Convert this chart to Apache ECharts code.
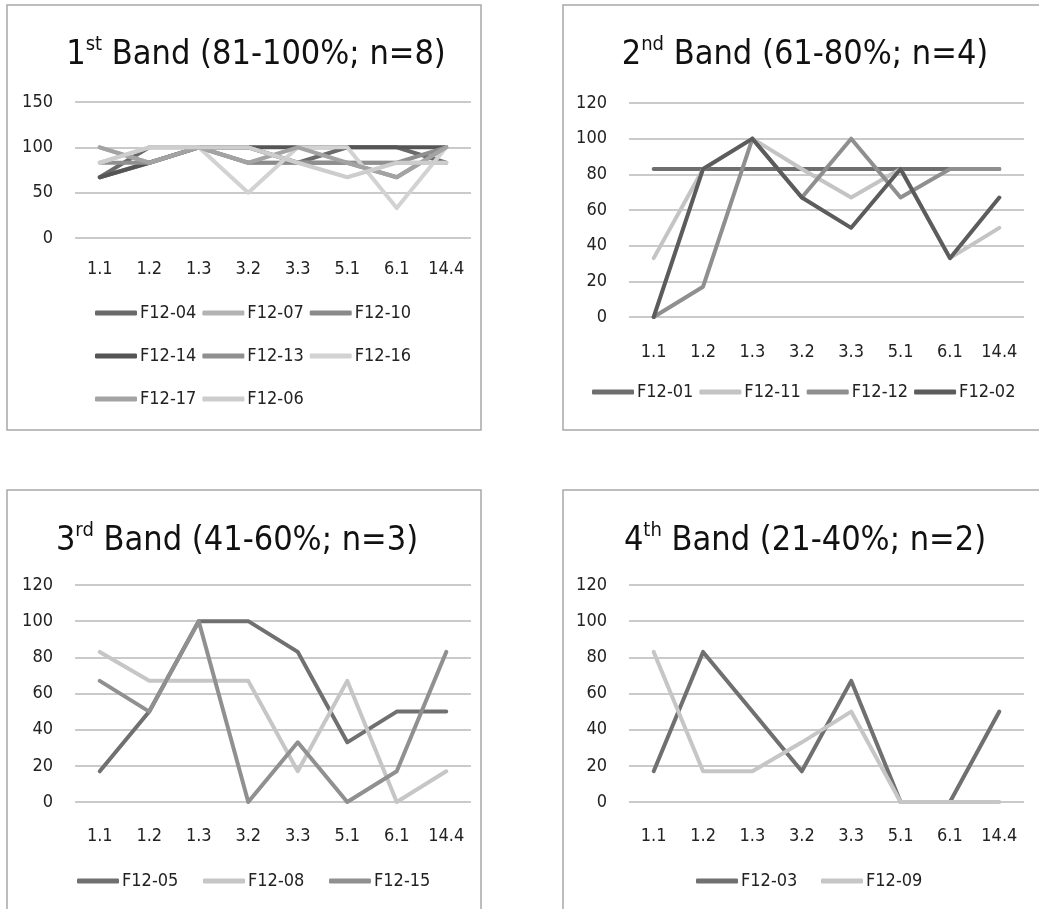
<!DOCTYPE html>
<html><head><meta charset="utf-8">
<script src="https://cdn.jsdelivr.net/npm/echarts@6/dist/echarts.min.js"></script>
<style>html,body{margin:0;padding:0;background:#fff;}#c{width:1039px;height:909px;}</style>
</head><body><div id="c"></div>
<script>
const categories = ['1.1','1.2','1.3','3.2','3.3','5.1','6.1','14.4'];

// Panel 1: 1st Band (81-100%; n=8)
const band1Names = ['F12-04','F12-07','F12-10','F12-14','F12-13','F12-16','F12-17','F12-06'];
const f1204 = [67, 100, 100, 100, 83, 100, 100, 83];
const f1207 = [100, 83, 100, 83, 83, 83, 83, 83];
const f1210 = [67, 83, 100, 83, 83, 83, 67, 100];
const f1214 = [67, 83, 100, 100, 100, 100, 100, 100];
const f1213 = [83, 83, 100, 100, 83, 83, 83, 100];
const f1216 = [83, 100, 100, 50, 100, 100, 33, 100];
const f1217 = [100, 83, 100, 83, 100, 83, 67, 100];
const f1206 = [83, 100, 100, 100, 83, 67, 83, 83];

// Panel 2: 2nd Band (61-80%; n=4)
const band2Names = ['F12-01','F12-11','F12-12','F12-02'];
const f1201 = [83, 83, 83, 83, 83, 83, 83, 83];
const f1211 = [33, 83, 100, 83, 67, 83, 33, 50];
const f1212 = [0, 17, 100, 67, 100, 67, 83, 83];
const f1202 = [0, 83, 100, 67, 50, 83, 33, 67];

// Panel 3: 3rd Band (41-60%; n=3)
const band3Names = ['F12-05','F12-08','F12-15'];
const f1205 = [17, 50, 100, 100, 83, 33, 50, 50];
const f1208 = [83, 67, 67, 67, 17, 67, 0, 17];
const f1215 = [67, 50, 100, 0, 33, 0, 17, 83];

// Panel 4: 4th Band (21-40%; n=2)
const band4Names = ['F12-03','F12-09'];
const f1203 = [17, 83, 50, 17, 67, 0, 0, 50];
const f1209 = [83, 17, 17, 33, 50, 0, 0, 0];

const FONT = '"DejaVu Sans Condensed","Liberation Sans Narrow",sans-serif';

const panels = [
  {grid:{left:75, top:102, width:396, height:136}, max:150, interval:50, labelMargin:22,
   names:band1Names, values:[f1204,f1207,f1210,f1214,f1213,f1216,f1217,f1206],
   colors:['#6a6a6a','#b3b3b3','#8a8a8a','#555555','#8f8f8f','#d2d2d2','#a3a3a3','#cdcdcd']},
  {grid:{left:629, top:103, width:395, height:214}, max:120, interval:20, labelMargin:26,
   names:band2Names, values:[f1201,f1211,f1212,f1202],
   colors:['#6e6e6e','#c4c4c4','#8f8f8f','#5c5c5c']},
  {grid:{left:75, top:585, width:396, height:217}, max:120, interval:20, labelMargin:25,
   names:band3Names, values:[f1205,f1208,f1215],
   colors:['#707070','#c6c6c6','#909090']},
  {grid:{left:629, top:585, width:395, height:217}, max:120, interval:20, labelMargin:25,
   names:band4Names, values:[f1203,f1209],
   colors:['#707070','#c6c6c6']}
];

const grids=[], xAxes=[], yAxes=[], series=[];
panels.forEach((p,i)=>{
  grids.push(p.grid);
  xAxes.push({type:'category', gridIndex:i, data:categories, boundaryGap:true,
    axisLine:{show:false}, axisTick:{show:false},
    axisLabel:{interval:0, margin:p.labelMargin, fontSize:18, color:'#222', fontFamily:FONT}});
  yAxes.push({type:'value', gridIndex:i, min:0, max:p.max, interval:p.interval,
    axisLine:{show:false}, axisTick:{show:false},
    splitLine:{lineStyle:{color:'#b9b9b9', width:1.5}},
    axisLabel:{margin:22, fontSize:18, color:'#222', fontFamily:FONT}});
  p.names.forEach((n,k)=>{
    series.push({type:'line', name:n, xAxisIndex:i, yAxisIndex:i, data:p.values[k],
      symbol:'none', smooth:false, color:p.colors[k],
      lineStyle:{width:4, color:p.colors[k], cap:'round', join:'round'},
      itemStyle:{color:p.colors[k]}, emphasis:{disabled:true}});
  });
});

function legend(data, left, top){
  return {data:data, left:left, top:top, orient:'horizontal', icon:'roundRect',
    itemWidth:42, itemHeight:5, itemGap:6, padding:0,
    textStyle:{fontSize:18, color:'#222', fontFamily:FONT, padding:[0,0,0,-2]}};
}

const titleRich = {
  n:{fontSize:34, color:'#111', fontFamily:FONT, fontWeight:'normal', lineHeight:40},
  s:{fontSize:20, color:'#111', fontFamily:FONT, fontWeight:'normal', lineHeight:24, verticalAlign:'top'}
};
function title(main, sup, rest, cx, top){
  return {text:'{n|'+main+'}{s|'+sup+'}{n|'+rest+'}', left:cx, top:top, textAlign:'center',
    textStyle:{fontWeight:'normal', rich:titleRich}};
}

const borders = [[7,5,474,425],[563,5,490,425],[7,490,474,430],[563,490,490,430]].map(b=>({
  type:'rect', shape:{x:b[0], y:b[1], width:b[2], height:b[3]},
  style:{fill:'none', stroke:'#a8a8a8', lineWidth:1.5}, silent:true, z:-10}));

const option = {
  animation:false,
  backgroundColor:'#fff',
  graphic:borders,
  title:[
    title('1','st',' Band (81-100%; n=8)',251,30),
    title('2','nd',' Band (61-80%; n=4)',800,30),
    title('3','rd',' Band (41-60%; n=3)',232,516),
    title('4','th',' Band (21-40%; n=2)',800,516)
  ],
  legend:[
    legend(['F12-04','F12-07','F12-10'],95,304),
    legend(['F12-14','F12-13','F12-16'],95,347),
    legend(['F12-17','F12-06'],95,390),
    legend(band2Names,592,383),
    legend(['F12-05'],77,872), legend(['F12-08'],203,872), legend(['F12-15'],329,872),
    legend(['F12-03'],696,872), legend(['F12-09'],821,872)
  ],
  grid:grids, xAxis:xAxes, yAxis:yAxes, series:series
};
echarts.init(document.getElementById('c')).setOption(option);
</script>
</body></html>
